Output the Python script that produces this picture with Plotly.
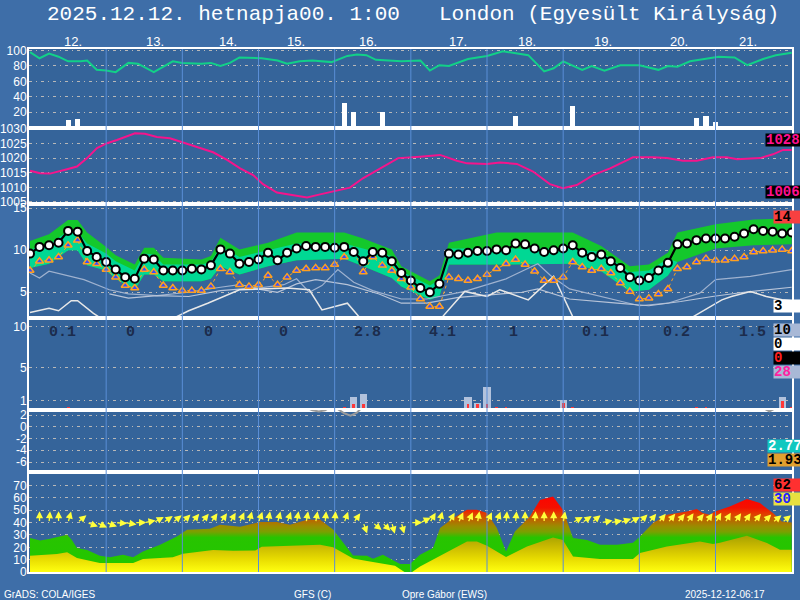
import math
import plotly.graph_objects as go
from plotly.subplots import make_subplots

# ---------------- data (time axis: hours from start) ----------------
hum_h = [0,3,6,9,12,16,18,21,24,27,31,34,39,45,48,54,57,60,63,66,73,78,81,85,89,95,100,103,106,109,
         117,123,126,129,132,138,144,149,157,162,165,168,174,177,181,186,192,198,201,204,208,213,217,222,226,231,235,240]
hum_v = [98,90,96,92,86,86,87,75,74,72,84,83,72,86,84,83,84,80,84,91,90,87,83,86,87,85,93,95,94,88,
         86,87,74,81,80,89,93,99,94,73,77,86,75,80,74,81,81,75,80,79,86,89,92,91,81,89,94,97]

topbar_h = [12,15,99,102,111,153,171,210,213,216,219]
topbar_v = [10,11,32,20,20,15,28,13,15,7,2]

pres_h = [0,3.2,6.3,8.5,11.7,14.8,18,21.1,24.3,27.4,30.6,33.1,36.2,40,44.1,48.2,53.6,57.7,62.1,66.2,
          70.3,73.4,77.8,81.9,87.3,91.4,95.5,100.8,104.9,110.3,116,122.9,129.2,134.5,137.7,144,148.1,153.4,158.5,163.8,
          167.9,172.3,177.4,182.8,190,196.3,200.7,205.7,210.1,215.2,219.6,222.8,230,234.1,237.3,240]
pres_v = [1015.7,1014.8,1014.7,1015.4,1016.2,1017.1,1020,1023.4,1025.1,1026.2,1027.6,1028.5,1028.3,1027.2,1026.8,1025.3,1023.4,1022,1019.4,1016.5,
          1014.2,1011.1,1008.2,1007.4,1006.5,1007.6,1008.5,1009.9,1013.1,1016.5,1020,1020.5,1021.1,1019.1,1018.2,1018,1018.5,1018,1015.4,1011.1,
          1009.7,1010.8,1014.2,1016.5,1020.3,1020.3,1020,1019.1,1019.1,1020.3,1020.3,1019.6,1020,1021.3,1022.8,1022.8]

t_h = [3*i for i in range(81)]
temp = [9.6,10.4,10.6,10.9,12.3,12.2,9.9,9.2,8.6,7.7,6.8,6.6,9.0,8.9,7.6,7.6,7.6,7.8,7.7,8.2,
        10.1,9.6,8.4,8.6,8.9,9.7,8.8,9.7,10.2,10.5,10.4,10.4,10.3,10.4,9.8,8.7,9.8,9.7,8.7,
        7.3,6.4,5.5,5.0,6.0,9.6,9.5,9.7,9.9,9.9,10.1,10.0,10.8,10.7,10.2,9.8,10.0,10.2,10.6,9.7,
        9.2,9.5,8.7,7.9,6.8,6.4,6.7,7.6,8.5,10.7,10.8,11.2,11.4,11.4,11.4,11.6,12.0,12.5,12.3,12.2,12.0,12.1]
dewp = [7.6,8.7,8.8,9.2,10.6,11.2,8.6,8.4,7.7,6.8,5.8,5.5,7.7,7.4,5.8,5.5,5.2,5.2,5.2,5.7,
        7.8,7.4,5.9,5.7,5.9,7.0,5.9,6.8,7.6,7.8,7.9,7.9,8.3,9.2,9.9,7.4,9.2,8.2,7.6,
        6.6,5.6,4.2,3.3,3.3,6.8,6.6,6.4,6.6,7.1,7.8,8.4,8.9,8.3,7.5,6.4,6.4,6.8,8.6,8.0,
        7.6,7.8,7.3,6.1,5.1,4.2,4.3,4.8,5.4,7.8,8.0,8.6,9.0,8.8,8.8,9.0,9.2,9.8,9.9,10.0,10.1,9.9]

band_h   = [0,6,12,15,18,24,27,33,36,39,42,54,57,60,66,75,84,99,105,114,117,126,129,132,147,171,180,189,195,201,204,216,228,240]
green_hi = [11.1,11.9,13.6,13.6,12.1,10.4,9.4,8.3,10.3,10.3,9.1,8.9,9.3,11.5,10.1,10.9,12.1,12.1,11.4,10.1,8.1,6.3,7.0,10.9,12.1,12.1,10.5,8.1,8.3,9.7,12.1,13.1,13.65,13.8]
mint_hi  = [10.1,10.7,12.3,12.2,10.8,9.6,8.7,7.6,9.6,9.5,8.3,8.3,8.6,10.5,9.2,10.0,10.8,10.8,10.2,9.3,7.5,5.8,6.5,10.2,10.2,10.2,9.8,7.4,7.6,9.0,8.6,10.2,10.6,10.7]
band_lo  = [7.9,8.4,10.0,10.0,8.2,7.6,6.6,5.3,7.1,7.1,6.3,6.3,6.6,8.1,7.1,8.1,8.8,9.0,8.1,6.7,5.7,4.1,4.5,8.3,8.3,8.4,7.5,5.1,5.3,7.0,8.6,10.2,10.6,10.7]

g1_h = [0,3,6,17,25,31,40,50,60,66,72,80,84,88,92,97,102,108,117,125,137,150,160,164,170,180,192,201,211,216,227,240]
g1_v = [7.3,6.7,7.5,6.5,5.3,4.8,4.6,5.0,5.6,5.9,5.5,5.9,6.6,5.0,5.8,7.7,6.2,5.2,4.2,4.2,5.1,6.6,8.4,7.0,5.4,4.5,3.4,3.7,4.9,6.5,6.9,7.7]
g2_h = [25,31,40,50,60,70,78,84,90,100,110,117,125,135,145,155,160,170,185,195,205,215,225,240]
g2_v = [4.8,4.3,4.6,4.5,5.2,5.5,5.0,6.0,6.5,5.9,4.8,3.7,3.7,4.4,4.7,5.0,5.4,4.2,3.7,3.4,3.9,4.5,5.0,5.6]
w_h = [0,6,9,13,15,20,24,43,50,56,66,81,88,92,100,105,125,130,137,144,148,157,165,171,175,205,209,218,221,227,232,237,240]
w_v = [2.6,3.1,2.8,4.0,4.0,2.5,1.5,1.5,2.8,3.7,5.3,5.5,5.3,2.9,3.7,1.5,1.5,2.1,5.1,4.5,5.3,4.1,6.9,2.1,1.5,1.5,2.1,4.1,4.5,5.1,4.5,4.1,4.0]

rain_h = [102,105,138,141,144,168,237]
rain_v = [1.4,1.8,1.5,0.7,2.6,1.05,1.5]
conv_h = [12,99,102,105,138,141,144,147,150,168,171,210,213,237,240]
conv_v = [0.15,0.15,0.6,0.6,0.6,0.6,0.6,0.15,0.15,0.7,0.15,0.15,0.15,1.0,0.15]
day_totals = ["0.1","0","0","0","2.8","4.1","1","0.1","0.2","1.5"]
day_total_h = [10.1,31.8,56.1,80,106.2,130.1,152.2,178.3,203.8,227.8]

lvl_h = [86,89,91,93,95,97,99,101,103,105,230,233,236]
lvl_v = [3.5,2.8,2.6,2.8,3.5,3.0,2.3,1.9,2.4,3.5,3.5,2.6,3.5]

up_h = [0,3.2,6.3,11.7,13.2,14.8,18,22,25.2,29.3,32.5,35.6,41,46.3,49.5,56.7,59.9,66.2,72.5,77.8,81.9,87.3,91.4,95.5,101.8,106.2,108.1,111.2,116.6,
        119.7,122.9,127,129.2,133.3,137.7,140.8,144,147.1,150,152.8,157.5,160.7,164.8,167.9,171.1,175.5,179.6,185,190,192.2,196.3,200.7,207,210.1,212,214.2,215.8,220.5,225.9,230,234.1,236.9,240]
up_v = [27.5,25.5,27,30.2,26,19.4,17.8,13.2,12,14,12,16.7,22,28.8,34.2,35,38.2,36.7,40.4,40.4,38.2,42.3,42.3,34.4,13.4,13.2,10.8,14,6.5,
        6.5,14,19.4,35.6,43.6,50.4,50.4,47.7,35.6,16.7,32.8,45,58.4,61.1,50.4,27.5,26,22,22,23.6,28.8,39.6,46.3,49,51,47.7,46.3,49,53,59.2,55.8,47.7,40.9,40]
lo_h = [0,8.5,11.7,14.8,22,32.5,35.6,45,48.2,57.7,64,71,73,82,91.4,95.5,101.8,106.2,111.2,115,118,120.4,122.9,130,137.7,140.8,144,150,156.6,164.8,167.9,171.1,179.6,190,192.2,200.7,211.1,215.2,217.4,225.9,232.2,236.3,240]
lo_v = [13.2,14.6,15.9,11.3,7.3,7.3,10.5,12,14.8,17.8,17.2,17.5,20.5,21,22,20,11,9,7,5,0,0,4.5,14,24.7,24.7,21.3,12.1,20.7,28,26,12.6,10.5,10.5,15.4,20.7,24.7,22.7,23.7,29.3,23.4,18,18]

wind_dir = [0,5,0,15,50,110,115,110,95,100,90,80,60,55,50,45,40,40,35,35,30,25,15,20,10,15,20,10,10,10,5,5,20,35,160,130,135,165,
            165,90,65,30,15,30,25,25,10,25,20,5,5,0,5,0,0,10,60,55,50,80,80,70,60,45,40,40,40,40,35,40,35,30,30,35,35,40,45,50,50]

day_labels = ["12.","13.","14.","15.","16.","17.","18.","19.","20.","21."]
day_label_h = [13.7,39.4,62.4,83.8,106.5,134.8,156.6,180.5,204.5,226.2]
day_bounds = [24,48,72,96,120,144,168,192,216]

# ---------------- figure ----------------
fig = make_subplots(rows=6, cols=1, shared_xaxes=True, vertical_spacing=0,
                    row_heights=[79, 76, 114, 92, 62, 100])

# row 1
fig.add_trace(go.Bar(x=topbar_h, y=topbar_v, width=1.6, marker=dict(color="white", line=dict(width=0))), 1, 1)
fig.add_trace(go.Scatter(x=hum_h, y=hum_v, mode="lines", line=dict(color="#12d088", width=2)), 1, 1)
# row 2
fig.add_trace(go.Scatter(x=pres_h, y=pres_v, mode="lines", line=dict(color="#f5148c", width=2)), 2, 1)
# row 3
fig.add_trace(go.Scatter(x=band_h, y=band_lo, mode="lines", line=dict(width=0)), 3, 1)
fig.add_trace(go.Scatter(x=band_h, y=green_hi, mode="lines", line=dict(width=0), fill="tonexty", fillcolor="#14c82c"), 3, 1)
fig.add_trace(go.Scatter(x=band_h, y=band_lo, mode="lines", line=dict(width=0)), 3, 1)
fig.add_trace(go.Scatter(x=band_h, y=mint_hi, mode="lines", line=dict(width=0), fill="tonexty", fillcolor="#00d894"), 3, 1)
fig.add_trace(go.Scatter(x=g1_h, y=g1_v, mode="lines", line=dict(color="#9fb2cf", width=1.2)), 3, 1)
fig.add_trace(go.Scatter(x=g2_h, y=g2_v, mode="lines", line=dict(color="#b8c4d8", width=1.2)), 3, 1)
fig.add_trace(go.Scatter(x=w_h, y=w_v, mode="lines", line=dict(color="#e8e8e8", width=1.5)), 3, 1)
fig.add_trace(go.Scatter(x=t_h, y=dewp, mode="lines+markers", line=dict(color="#ffa020", width=1, dash="dot"),
                         marker=dict(symbol="triangle-up", size=7, color="#3a4cff", line=dict(color="#ffa020", width=1.5))), 3, 1)
fig.add_trace(go.Scatter(x=t_h, y=temp, mode="lines+markers", line=dict(color="black", width=2.2),
                         marker=dict(symbol="circle", size=8, color="white", line=dict(color="black", width=2))), 3, 1)
# row 4
fig.add_trace(go.Bar(x=rain_h, y=rain_v, width=2.3, marker=dict(color="#b2c2dc", line=dict(width=0))), 4, 1)
fig.add_trace(go.Bar(x=conv_h, y=conv_v, width=0.9, marker=dict(color="#ff3838", line=dict(width=0))), 4, 1)
# row 5
fig.add_trace(go.Scatter(x=lvl_h, y=lvl_v, mode="lines", line=dict(color="#9a9a9a", width=2)), 5, 1)
# row 6
fig.add_trace(go.Scatter(x=up_h, y=up_v, mode="lines", line=dict(width=0), fill="tozeroy",
                         fillgradient=dict(type="vertical", start=0, stop=65,
                                           colorscale=[[0, "#20c800"], [0.43, "#28c400"], [0.5, "#7aa000"],
                                                       [0.57, "#9a8c00"], [0.64, "#b86a00"], [0.72, "#e04000"],
                                                       [0.8, "#f41000"], [1, "#ff0000"]])), 6, 1)
fig.add_trace(go.Scatter(x=lo_h, y=lo_v, mode="lines", line=dict(width=0), fill="tozeroy",
                         fillgradient=dict(type="vertical", start=0, stop=30,
                                           colorscale=[[0, "#ffff10"], [0.35, "#e8dc00"], [0.7, "#c8b800"], [1, "#a4a000"]])), 6, 1)

# axes
fig.update_xaxes(range=[-0.315, 240.1], showgrid=False, showticklabels=False, ticks="", zeroline=False,
                 showline=True, linecolor="white", linewidth=2, mirror=True, automargin=False)
fig.update_yaxes(showline=True, linecolor="white", linewidth=2, mirror=True, zeroline=False, ticks="",
                 gridcolor="#b8b8b8", gridwidth=1, griddash="3px,4px,1px,4px", automargin=False,
                 ticklabelstandoff=-2,
                 tickfont=dict(color="white", family="Liberation Sans", size=12))
fig.update_yaxes(row=1, col=1, range=[-0.4, 102], tickvals=[20, 40, 60, 80, 100])
fig.update_yaxes(row=2, col=1, range=[1004.3, 1030.3], tickvals=[1005, 1010, 1015, 1020, 1025, 1030])
fig.update_yaxes(row=3, col=1, range=[1.94, 15.5], tickvals=[5, 10, 15])
fig.update_yaxes(row=4, col=1, range=[-0.13, 11.03], tickvals=[1, 5, 10])
fig.update_yaxes(row=5, col=1, range=[-7.7, 2.85], tickvals=[-6, -4, -2, 0, 2], ticktext=["-6", "-4", "-2", "0", "2"])
fig.update_yaxes(row=6, col=1, range=[0, 81], tickvals=[0, 10, 20, 30, 40, 50, 60, 70])

def pxx(p):
    return (p - 29) / 763.0

def pxy(p):
    return (572 - p) / 523.0

shapes = []
for d in day_bounds:
    shapes.append(dict(type="line", xref="x", yref="paper", x0=d, x1=d, y0=0, y1=1,
                       line=dict(color="#5a8ed6", width=1), layer="above"))

ann = []
tf = dict(family="Liberation Mono", size=21, color="white")
ann.append(dict(text="2025.12.12. hetnapja00. 1:00", xref="paper", yref="paper", x=pxx(45), y=pxy(15),
                xanchor="left", yanchor="middle", showarrow=False, font=tf))
ann.append(dict(text="London (Egyesült Királyság)", xref="paper", yref="paper", x=pxx(437), y=pxy(15),
                xanchor="left", yanchor="middle", showarrow=False, font=tf))
for lab, h in zip(day_labels, day_label_h):
    ann.append(dict(text=lab, xref="x", yref="paper", x=h, y=pxy(42), xanchor="center", yanchor="middle",
                    showarrow=False, font=dict(family="Liberation Sans", size=13, color="white")))
for lab, h in zip(day_totals, day_total_h):
    ann.append(dict(text="<b>" + lab + "</b>", xref="x4", yref="y4", x=h, y=9.25, xanchor="center", yanchor="middle",
                    showarrow=False, font=dict(family="Liberation Mono", size=15, color="#1c2c4c")))

# wind arrows (tail at level 40, fixed pixel length)
L = 11.5
for i, d in enumerate(wind_dir):
    h = 3 * (i + 1)
    dx = L * math.sin(math.radians(d)) / 3.174
    dy = L * math.cos(math.radians(d)) / 1.237
    ann.append(dict(text="", xref="x6", yref="y6", axref="x6", ayref="y6", x=h + dx, y=40 + dy, ax=h, ay=40,
                    showarrow=True, arrowhead=2, arrowsize=1.1, arrowwidth=1.3, arrowcolor="#ffff3a", standoff=0))

# right-hand value boxes
boxes = [("1028", 765, 139.7, 36, "#000000", "#ff1090"),
         ("1006", 765, 192.0, 36, "#000000", "#ff1090"),
         ("14", 773, 217.0, 28, "#f84040", "#000000"),
         ("3", 773, 305.5, 28, "#ffffff", "#000000"),
         ("10", 773, 330.0, 28, "#a8b8d6", "#000000"),
         ("0", 773, 344.0, 28, "#ffffff", "#000000"),
         ("0", 773, 357.5, 28, "#000000", "#ff2020"),
         ("28", 773, 371.7, 28, "#a8b8d6", "#ff20a0"),
         ("2.772", 767, 446.3, 46, "#10c8c0", "#ffffff"),
         ("1.937", 767, 460.3, 46, "#e0a030", "#000000"),
         ("62", 773, 485.0, 28, "#ff3030", "#000000"),
         ("30", 773, 499.0, 28, "#e8e040", "#2020ff")]
for txt, xl, yc, w, bg, fg in boxes:
    ann.append(dict(text="<b>" + txt + "</b>", xref="paper", yref="paper", x=pxx(xl), y=pxy(yc),
                    xanchor="left", yanchor="middle", align="left", width=w, height=12, borderpad=0,
                    bgcolor=bg, showarrow=False, font=dict(family="Liberation Mono", size=14, color=fg)))

ff = dict(family="Liberation Sans", size=10, color="white")
for txt, xl in [("GrADS: COLA/IGES", 2), ("GFS (C)", 292), ("Opre Gábor (EWS)", 400), ("2025-12-12-06:17", 683)]:
    ann.append(dict(text=txt, xref="paper", yref="paper", x=pxx(xl), y=pxy(594), xanchor="left", yanchor="middle",
                    showarrow=False, font=ff))

fig.update_layout(width=800, height=600, margin=dict(l=29, r=8, t=49, b=28, autoexpand=False),
                  paper_bgcolor="#3e6ea8", plot_bgcolor="#35649a", showlegend=False,
                  barmode="overlay", bargap=0, shapes=shapes, annotations=ann)

fig.write_html("out.html", config={"displayModeBar": False},
               post_script="document.body.style.margin='0';document.body.style.overflow='hidden';")
